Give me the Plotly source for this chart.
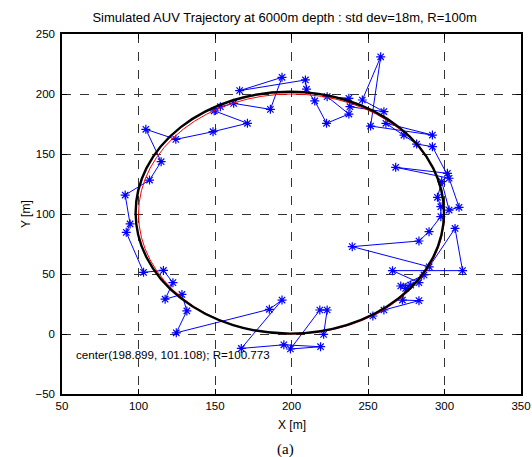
import plotly.graph_objects as go

# Trajectory points, in path order
traj_x = [221.0, 223.3, 218.5, 199.3, 219.0, 195.0, 167.2, 193.8, 185.5, 124.7,
          131.6, 128.4, 117.4, 122.5, 116.3, 103.3, 92.0, 94.5, 91.3, 107.2,
          114.8, 104.8, 124.4, 148.7, 171.2, 149.5, 153.5, 162.2, 186.2, 193.8,
          166.1, 209.1, 209.8, 215.2, 222.9, 237.5, 223.3, 237.5, 238.2, 260.4,
          246.3, 258.3, 251.7, 292.1, 261.7, 273.5, 281.8, 292.1, 303.0, 268.1,
          301.9, 309.5, 303.0, 298.2, 295.4, 297.6, 297.6, 289.9, 283.3, 239.7,
          290.0, 306.9, 311.8, 266.0, 283.3, 286.6, 271.4, 277.9, 274.6, 272.5,
          283.3, 260.4, 253.2]
traj_y = [-0.3, 20.0, 20.0, -12.5, -10.6, -9.0, -12.0, 28.3, 20.6, 1.0,
          19.2, 33.0, 29.0, 42.8, 53.0, 51.4, 84.7, 91.7, 115.8, 128.3,
          143.6, 170.6, 162.2, 168.6, 175.6, 186.0, 189.4, 192.2, 187.2, 213.9,
          202.8, 211.7, 204.0, 194.2, 175.6, 183.3, 197.8, 196.4, 189.4, 185.3,
          195.0, 231.0, 173.3, 165.8, 175.6, 165.8, 158.3, 156.1, 129.8, 138.9,
          133.9, 105.6, 103.3, 127.0, 113.9, 106.1, 97.8, 85.3, 77.5, 72.8,
          56.0, 88.0, 52.8, 52.8, 42.8, 49.2, 40.0, 40.8, 38.0, 28.3,
          27.8, 20.0, 15.0]

# True circle and fitted circle
true_center = (200.0, 100.0)
true_radius = 100.0
fit_center = (198.899, 101.108)
fit_radius = 100.773

x_ticks = [50, 100, 150, 200, 250, 300, 350]
y_ticks = [-50, 0, 50, 100, 150, 200, 250]

FONT = "Liberation Sans"

fig = go.Figure()
fig.add_trace(go.Scatter(
    x=traj_x, y=traj_y, mode="lines+markers",
    line=dict(color="#0000ff", width=1),
    marker=dict(symbol="asterisk-open", size=7.5, color="#0000ff",
                line=dict(color="#0000ff", width=1.2)),
    showlegend=False, hoverinfo="skip", cliponaxis=False))

fig.add_shape(type="circle", xref="x", yref="y",
              x0=true_center[0] - true_radius, x1=true_center[0] + true_radius,
              y0=true_center[1] - true_radius, y1=true_center[1] + true_radius,
              line=dict(color="#ff0000", width=1), layer="above")
fig.add_shape(type="circle", xref="x", yref="y",
              x0=fit_center[0] - fit_radius, x1=fit_center[0] + fit_radius,
              y0=fit_center[1] - fit_radius, y1=fit_center[1] + fit_radius,
              line=dict(color="#000000", width=2.4), layer="above")

fig.add_annotation(x=58, y=-17, xref="x", yref="y", xanchor="left", yanchor="middle",
                   text="center(198.899, 101.108); R=100.773", showarrow=False,
                   font=dict(family=FONT, size=11.6, color="black"))

fig.add_annotation(x=0, y=0.5, xref="paper", yref="paper", xanchor="center",
                   yanchor="middle", xshift=-36, textangle=-90, text="Y [m]",
                   showarrow=False, font=dict(family=FONT, size=12, color="black"))

fig.add_annotation(x=0.5, y=0, xref="paper", yref="paper", xanchor="center",
                   yanchor="middle", yshift=-31, text="X [m]",
                   showarrow=False, font=dict(family=FONT, size=12, color="black"))

fig.add_annotation(x=0.488, y=0, xref="paper", yref="paper", xanchor="center",
                   yanchor="middle", yshift=-55, text="(a)", showarrow=False,
                   font=dict(family="Liberation Serif", size=15, color="black"))

axis_common = dict(showline=True, linecolor="black", linewidth=1.5, mirror="ticks",
                   ticks="inside", ticklen=5, tickcolor="black", automargin=False,
                   showgrid=True, gridcolor="#333333", gridwidth=1, griddash="dash",
                   zeroline=False, tickfont=dict(family=FONT, size=11.5, color="black"))

fig.update_xaxes(range=[50, 350], tickvals=x_ticks, **axis_common)
fig.update_yaxes(range=[-50, 250], tickvals=y_ticks, ticklabelstandoff=3, **axis_common)

fig.update_layout(
    width=532, height=457,
    margin=dict(l=62, r=11, t=34, b=63),
    paper_bgcolor="white", plot_bgcolor="white",
    title=dict(text="Simulated AUV Trajectory at 6000m depth : std dev=18m, R=100m",
               x=0.535, xanchor="center", y=0.962, yanchor="middle",
               font=dict(family=FONT, size=13, color="black")),
)

fig.write_html("out.html", config={"displayModeBar": False},
               post_script="document.body.style.margin='0';document.body.style.overflow='hidden';")
